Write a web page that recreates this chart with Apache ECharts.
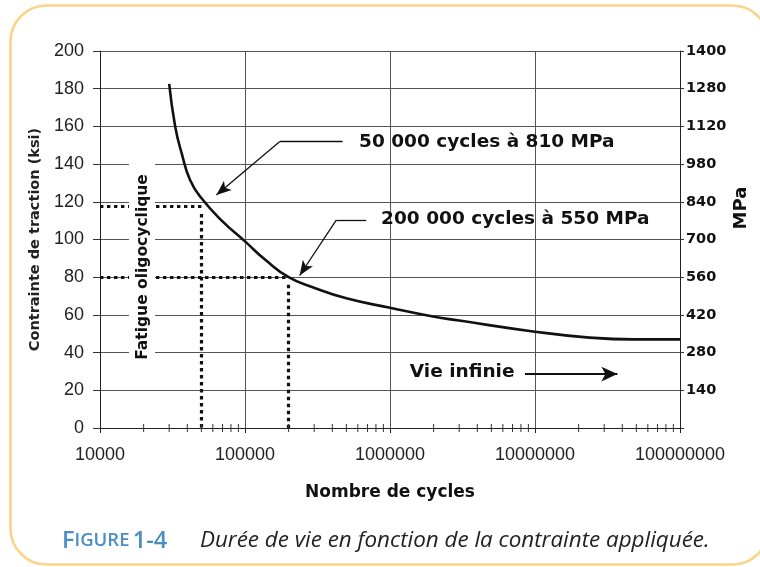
<!DOCTYPE html>
<html><head><meta charset="utf-8">
<script src="https://cdn.jsdelivr.net/npm/echarts@6/dist/echarts.min.js"></script>
<style>html,body{margin:0;padding:0;background:#fff}#c{width:760px;height:567px}</style>
</head><body><div id="c"></div>
<script>
// ---- data ----
const cycles = [30000, 33000, 36600, 41800, 50000, 70000, 100000, 140000, 200000, 290000, 500000, 1000000, 1900000, 3000000, 10000000, 22700000, 47400000, 100000000];
const ksi    = [182.5, 160, 145.7, 131.6, 122, 109.6, 99, 88.8, 80, 74.8, 68.8, 63.8, 59.4, 57, 51.1, 48.1, 47, 47];
const xTickLabels = ['10000', '100000', '1000000', '10000000', '100000000'];
const ksiTicks = [0, 20, 40, 60, 80, 100, 120, 140, 160, 180, 200];
const mpaLabels = ['', '140', '280', '420', '560', '700', '840', '980', '1120', '1280', '1400'];
const minorTicks = [20000, 30000, 40000, 50000, 60000, 70000, 80000, 90000,
  200000, 300000, 400000, 500000, 600000, 700000, 800000, 900000,
  2000000, 3000000, 4000000, 5000000, 6000000, 7000000, 8000000, 9000000,
  20000000, 30000000, 40000000, 50000000, 60000000, 70000000, 80000000, 90000000];
const point50k = [50000, 117.4];
const point200k = [200000, 80];
const arrow50k = [[471000, 151.9], [173000, 151.9], [63500, 123.6]];
const arrow200k = [[686000, 110.3], [426000, 110.3], [238000, 80.9]];
const arrowInf = [[8530000, 28.6], [37000000, 28.6]];
const label50k = [607000, 151.5];
const label200k = [861000, 110.8];
const labelInf = [1360000, 29.4];

const chart = echarts.init(document.getElementById('c'), null, {renderer: 'canvas'});
const BOLD = 'DejaVu Sans';
const dotted = {color: '#111', width: 3.2, type: [3.4, 3.6]};
const thin = {color: '#111', width: 1.3, type: 'solid'};

function seg(a, b, sa, sb, style) {
  return [{coord: a, symbol: sa, lineStyle: style}, {coord: b, symbol: sb}];
}

const option = {
  animation: false,
  backgroundColor: '#fff',
  grid: {left: 100, right: 80, top: 51, bottom: 139},
  xAxis: {
    type: 'log', logBase: 10, min: 10000, max: 100000000,
    name: 'Nombre de cycles', nameLocation: 'middle', nameGap: 56,
    nameTextStyle: {fontFamily: BOLD, fontWeight: 'bold', fontSize: 17, color: '#111'},
    axisLine: {show: true, lineStyle: {color: '#222', width: 1}},
    axisTick: {show: true, length: 5, lineStyle: {color: '#222'}},
    axisLabel: {fontFamily: 'Liberation Sans', fontSize: 18, color: '#222', margin: 18,
      formatter: v => xTickLabels.find(t => Number(t) === Math.round(v)) || ''},
    splitLine: {show: true, lineStyle: {color: '#555', width: 1}},
    minorTick: {show: false}
  },
  yAxis: [{
    type: 'value', min: 0, max: 200, interval: 20, position: 'left',
    name: 'Contrainte de traction (ksi)', nameLocation: 'middle', nameGap: 57,
    nameTextStyle: {fontFamily: BOLD, fontWeight: 'bold', fontSize: 14.5, color: '#222'},
    axisLine: {show: true, lineStyle: {color: '#222', width: 1}},
    axisTick: {show: true, length: 7, lineStyle: {color: '#333'}},
    axisLabel: {fontFamily: 'Liberation Sans', fontSize: 18, color: '#222', margin: 16},
    splitLine: {show: true, lineStyle: {color: '#555', width: 1}}
  }, {
    type: 'value', min: 0, max: 200, interval: 20, position: 'right',
    axisLine: {show: true, lineStyle: {color: '#222', width: 1}},
    axisTick: {show: true, length: 4, lineStyle: {color: '#333'}},
    axisLabel: {fontFamily: BOLD, fontWeight: 'bold', fontSize: 14.5, color: '#111', margin: 6,
      formatter: v => mpaLabels[ksiTicks.indexOf(Math.round(v))] || ''},
    splitLine: {show: false}
  }],
  series: [{
    type: 'line', data: cycles.map((c, i) => [c, ksi[i]]),
    smooth: 0.5, showSymbol: false, symbol: 'none',
    lineStyle: {color: '#111', width: 2.6}, z: 4,
    markLine: {
      silent: true, symbol: 'none', animation: false,
      label: {show: false},
      data: [
        seg([10000, point50k[1]], [point50k[0], point50k[1]], 'none', 'none', dotted),
        seg([point50k[0], 113.5], [point50k[0], 0], 'none', 'none', dotted),
        seg([10000, point200k[1]], [point200k[0], point200k[1]], 'none', 'none', dotted),
        seg([point200k[0], 76], [point200k[0], 0], 'none', 'none', dotted),
        seg(arrow50k[0], arrow50k[1], 'none', 'none', thin),
        [{coord: arrow50k[1], symbol: 'none', lineStyle: thin}, {coord: arrow50k[2], symbol: 'arrow', symbolSize: [9, 15]}],
        seg(arrow200k[0], arrow200k[1], 'none', 'none', thin),
        [{coord: arrow200k[1], symbol: 'none', lineStyle: thin}, {coord: arrow200k[2], symbol: 'arrow', symbolSize: [9, 15]}],
        [{coord: arrowInf[0], symbol: 'none', lineStyle: {color: '#111', width: 2, type: 'solid'}}, {coord: arrowInf[1], symbol: 'arrow', symbolSize: [11, 16]}]
      ]
    },
    markPoint: {
      silent: true, symbol: 'rect', symbolSize: 1, itemStyle: {color: 'rgba(0,0,0,0)'},
      data: [
        {coord: label50k, value: '50 000 cycles à 810 MPa'},
        {coord: label200k, value: '200 000 cycles à 550 MPa'},
        {coord: labelInf, value: 'Vie infinie'}
      ],
      label: {show: true, position: 'right', distance: 0, formatter: p => p.value,
        fontFamily: BOLD, fontWeight: 'bold', fontSize: 18.5, color: '#111'}
    }
  }, {
    type: 'custom', data: minorTicks.map(v => [v, 0]), clip: false, silent: true, z: 5,
    renderItem: (params, api) => {
      const p = api.coord([api.value(0), api.value(1)]);
      return {type: 'line', shape: {x1: p[0], y1: p[1] - 4, x2: p[0], y2: p[1] + 4},
        style: {stroke: '#333', lineWidth: 1}};
    }
  }],
  graphic: [
    {type: 'rect', shape: {x: 10.5, y: 5.5, width: 758, height: 559, r: 36},
      style: {fill: 'none', stroke: '#FBD48C', lineWidth: 2.6}, z: 0, silent: true},
    {type: 'rect', shape: {x: 129, y: 158, width: 26, height: 214},
      style: {fill: '#fff'}, z: 50, silent: true},
    {type: 'text', x: 143, y: 267, rotation: Math.PI / 2, z: 51, silent: true,
      style: {text: 'Fatigue oligocyclique', fontFamily: BOLD, fontWeight: 'bold', fontSize: 15.5,
        fill: '#111', align: 'center', verticalAlign: 'middle'}},
    {type: 'text', x: 741, y: 208, rotation: Math.PI / 2, z: 51, silent: true,
      style: {text: 'MPa', fontFamily: BOLD, fontWeight: 'bold', fontSize: 18,
        fill: '#111', align: 'center', verticalAlign: 'middle'}},
    {type: 'text', x: 62, y: 541, z: 51, silent: true,
      style: {text: '{a|F}{b|IGURE} {a|1-4}', verticalAlign: 'middle',
        rich: {a: {fontFamily: 'Open Sans', fontWeight: 600, fontSize: 23.5, fill: '#4B8EC2', color: '#4B8EC2'},
               b: {fontFamily: 'Open Sans', fontWeight: 600, fontSize: 18.5, fill: '#4B8EC2', color: '#4B8EC2'}}}},
    {type: 'text', x: 200, y: 541, z: 51, silent: true,
      style: {text: 'Durée de vie en fonction de la contrainte appliquée.', fontFamily: 'Open Sans',
        fontStyle: 'italic', fontSize: 22.4, fill: '#222', verticalAlign: 'middle'}}
  ]
};
chart.setOption(option);
</script></body></html>
